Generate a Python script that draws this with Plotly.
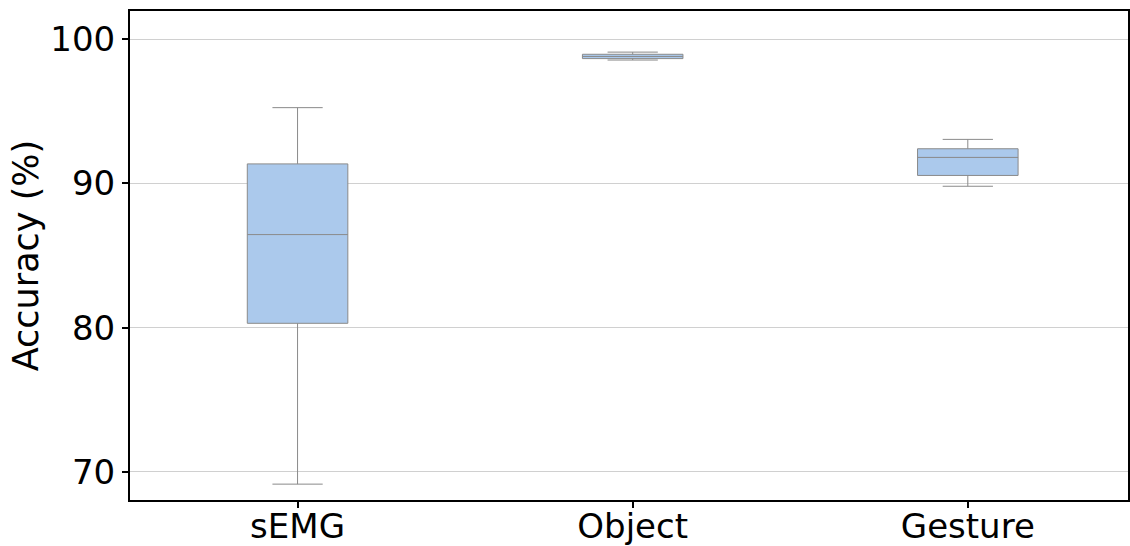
import plotly.graph_objects as go

# Accuracy summary statistics per task
categories = ["sEMG", "Object", "Gesture"]
q1 = [80.3, 98.65, 90.55]
median = [86.45, 98.8, 91.8]
q3 = [91.35, 98.95, 92.4]
lower_whisker = [69.15, 98.55, 89.8]
upper_whisker = [95.25, 99.1, 93.05]

y_ticks = [70, 80, 90, 100]

fig = go.Figure()
fig.add_trace(go.Box(
    x=categories,
    q1=q1,
    median=median,
    q3=q3,
    lowerfence=lower_whisker,
    upperfence=upper_whisker,
    fillcolor="#abc9ec",
    line=dict(color="#8a8a8a", width=1),
    whiskerwidth=0.5,
    width=0.3,
    boxpoints=False,
    showlegend=False,
    hoverinfo="y",
))

font_family = "DejaVu Sans, sans-serif"

fig.update_layout(
    width=1130,
    height=546,
    margin=dict(l=130, r=2, t=11, b=46),
    paper_bgcolor="white",
    plot_bgcolor="white",
    font=dict(family=font_family, color="black"),
)

fig.update_xaxes(
    range=[-0.5, 2.478],
    automargin=False,
    showline=True,
    linecolor="black",
    linewidth=2,
    mirror=True,
    ticks="outside",
    ticklen=6,
    tickwidth=1.5,
    tickcolor="black",
    tickfont=dict(size=34, family=font_family),
    ticklabelstandoff=-11,
    showgrid=False,
)

fig.update_yaxes(
    range=[68.05, 101.95],
    automargin=False,
    tickvals=y_ticks,
    showline=True,
    linecolor="black",
    linewidth=2,
    mirror=True,
    ticks="outside",
    ticklen=6,
    tickwidth=1.5,
    tickcolor="black",
    tickfont=dict(size=34, family=font_family),
    showgrid=True,
    gridcolor="#d0d0d0",
    gridwidth=1,
    zeroline=False,
    title=dict(text="Accuracy (%)", font=dict(size=35, family=font_family), standoff=1),
)

fig.write_html("out.html")
